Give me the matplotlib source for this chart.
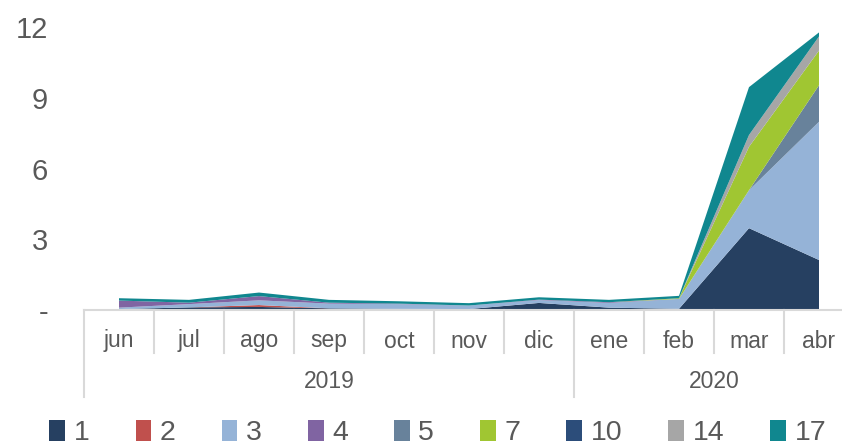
import matplotlib.pyplot as plt

plt.rcParams['font.family'] = ['Liberation Sans', 'DejaVu Sans']

# Categorie (mesi) e anni
months = ["jun", "jul", "ago", "sep", "oct", "nov", "dic", "ene", "feb", "mar", "abr"]
years = ["2019", "2020"]
year_spans = [(0, 6), (7, 10)]  # indice primo e ultimo mese di ogni anno

# Serie
s1 = [0.04, 0.11, 0.13, 0.07, 0.05, 0.04, 0.30, 0.10, 0.05, 3.47, 2.12]
s2 = [0.00, 0.00, 0.08, 0.00, 0.00, 0.00, 0.00, 0.00, 0.00, 0.00, 0.00]
s3 = [0.06, 0.14, 0.20, 0.20, 0.20, 0.15, 0.12, 0.20, 0.42, 1.61, 5.86]
s4 = [0.30, 0.06, 0.18, 0.04, 0.02, 0.00, 0.02, 0.03, 0.00, 0.00, 0.00]
s5 = [0.00, 0.00, 0.00, 0.00, 0.00, 0.00, 0.00, 0.00, 0.00, 0.00, 1.55]
s7 = [0.00, 0.00, 0.00, 0.00, 0.00, 0.00, 0.00, 0.00, 0.03, 1.84, 1.47]
s10 = [0.00, 0.00, 0.00, 0.00, 0.00, 0.00, 0.00, 0.00, 0.00, 0.00, 0.00]
s14 = [0.00, 0.00, 0.00, 0.00, 0.00, 0.00, 0.00, 0.00, 0.00, 0.50, 0.60]
s17 = [0.10, 0.12, 0.15, 0.12, 0.10, 0.10, 0.10, 0.10, 0.10, 2.03, 0.17]

series = [s1, s2, s3, s4, s5, s7, s10, s14, s17]
labels = ["1", "2", "3", "4", "5", "7", "10", "14", "17"]
colors = ["#264061", "#C0504D", "#95B3D7", "#8064A2", "#68829B",
          "#A0C632", "#2C4D7A", "#A6A6A6", "#10878F"]

yticks = [0, 3, 6, 9, 12]
ytick_labels = ["-", "3", "6", "9", "12"]

TXT = "#595959"
LINE = "#D9D9D9"

fig = plt.figure(figsize=(8.42, 4.48), dpi=100)
ax = fig.add_axes([84 / 842, 138 / 448, 770 / 842, 283 / 448])

x = list(range(len(months)))
polys = ax.stackplot(x, *series, colors=colors, labels=labels, linewidth=0)

ax.set_xlim(-0.5, len(months) - 0.5)
ax.set_ylim(0, 12)
ax.set_yticks(yticks)
ax.set_yticklabels(ytick_labels)
ax.tick_params(axis="y", length=0, pad=26, labelsize=21, labelcolor=TXT)
ax.set_xticks([])

for sp in ["top", "right", "left"]:
    ax.spines[sp].set_visible(False)
ax.spines["bottom"].set_color(LINE)
ax.spines["bottom"].set_linewidth(1.5)

# asse categorie a due livelli
tr = ax.get_xaxis_transform()
h = 283.0
month_bottom = -(353 - 310) / h
year_bottom = -(397 - 310) / h
outer = {-0.5, 6.5, len(months) - 0.5}
for k in range(len(months) + 1):
    xp = k - 0.5
    yb = year_bottom if xp in outer else month_bottom
    ax.plot([xp, xp], [0, yb], color=LINE, lw=1.5, transform=tr, clip_on=False)

for i, m in enumerate(months):
    ax.text(i, -(341 - 310) / h, m, transform=tr, ha="center", va="center",
            fontsize=16.5, color=TXT)

for yr, (a, b) in zip(years, year_spans):
    ax.text((a + b) / 2, -(381 - 310) / h, yr, transform=tr, ha="center",
            va="center", fontsize=16.5, color=TXT)

leg = fig.legend(handles=polys, labels=labels, loc="center", ncol=9,
                 bbox_to_anchor=(0.52, 1 - 433 / 448), frameon=False,
                 fontsize=20.5, handlelength=0.55, handleheight=0.8,
                 handletextpad=0.3, columnspacing=1.62, labelcolor=TXT,
                 borderpad=0.1)

fig.savefig("out.png", dpi=100)
